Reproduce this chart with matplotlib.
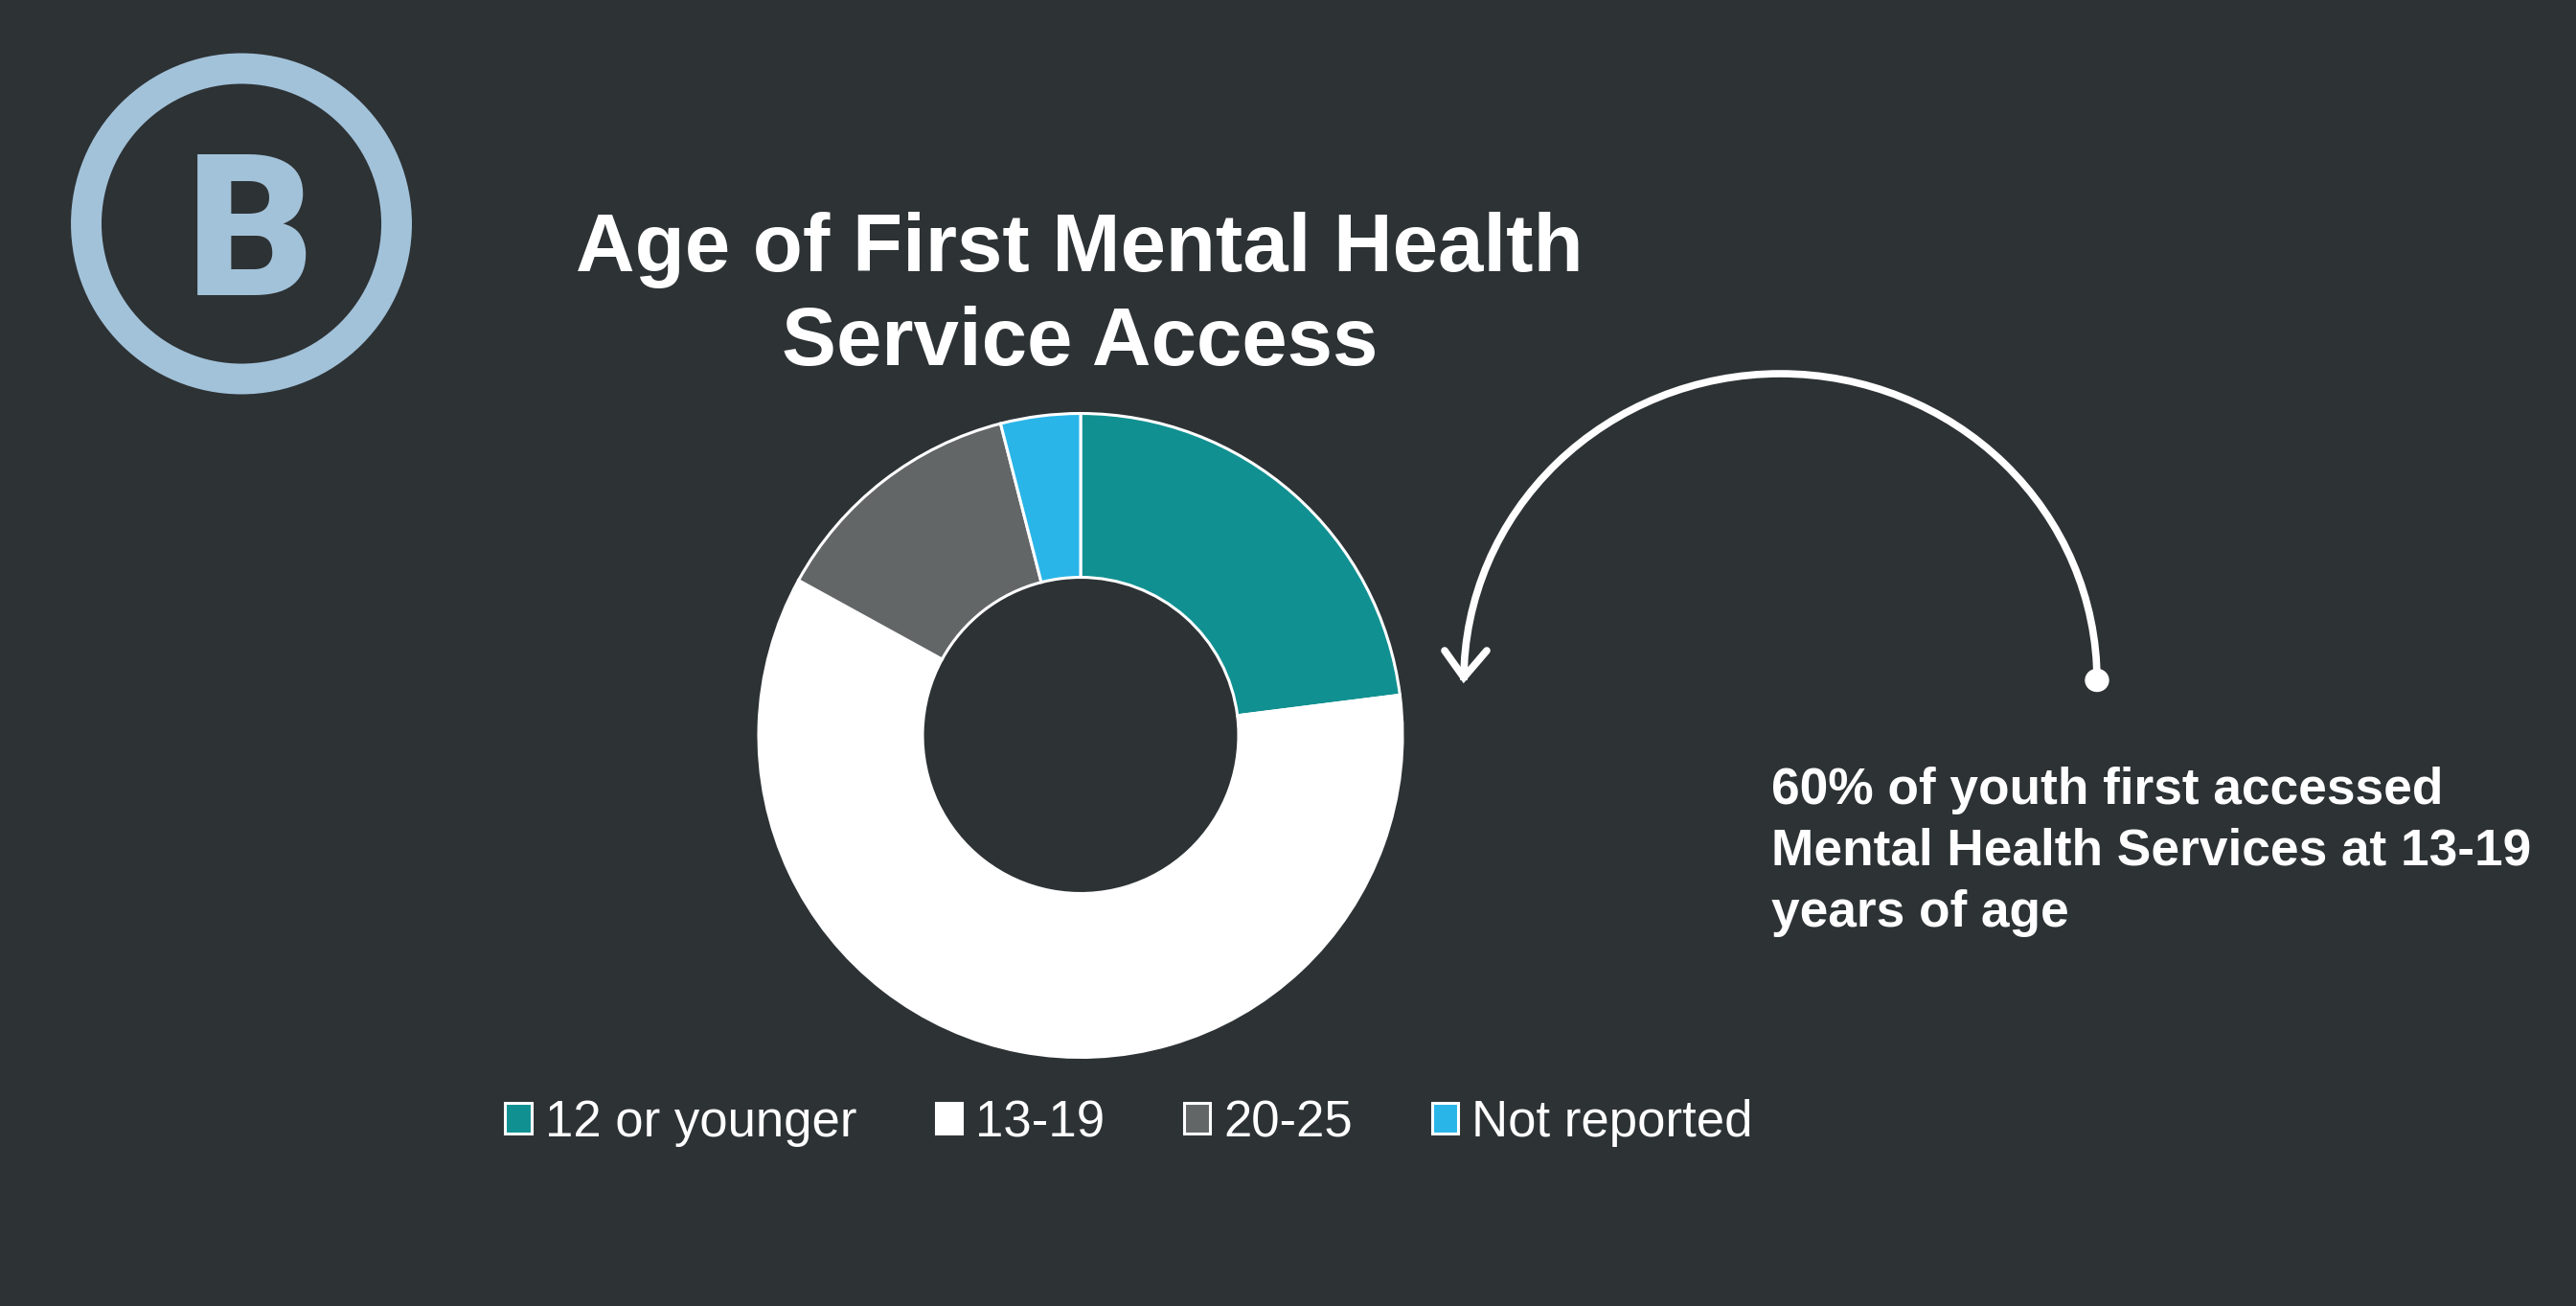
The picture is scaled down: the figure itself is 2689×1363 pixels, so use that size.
import matplotlib
matplotlib.use("Agg")
from matplotlib import pyplot as plt
from matplotlib.patches import Arc, Circle, Ellipse

# faixas etarias e percentuais
categorias = ["12 or younger", "13-19", "20-25", "Not reported"]
valores = [23, 60, 13, 4]
cores = ["#109091", "#FFFFFF", "#626667", "#29B5E8"]

titulo = ["Age of First Mental Health", "Service Access"]
nota = ["60% of youth first accessed", "Mental Health Services at 13-19", "years of age"]

fundo = "#2D3235"
azul_logo = "#A2C2D9"
W, H = 2689, 1364

plt.rcParams["font.family"] = ["Liberation Sans", "DejaVu Sans"]

fig = plt.figure(figsize=(W / 100, (H - 0.01) / 100), dpi=100, facecolor=fundo)
ax = fig.add_axes([0, 0, 1, 1])
ax.set_facecolor(fundo)

# rosca
fatias, _ = ax.pie(valores, colors=cores, center=(1128, H - 768.5), radius=336,
                   startangle=90, counterclock=False,
                   wedgeprops=dict(width=171, edgecolor="white", linewidth=2.2))

ax.set_xlim(0, W)
ax.set_ylim(0, H)
ax.set_aspect("equal")
ax.axis("off")

# legenda
leg = ax.legend(fatias, categorias, ncol=4, loc="center", bbox_to_anchor=(1178.5, H - 1172.5),
                bbox_transform=ax.transData, frameon=False, fontsize=38,
                labelcolor="white", handlelength=0.52, handleheight=0.55,
                handletextpad=0.27, columnspacing=1.56, borderpad=0, borderaxespad=0)

# titulo
for texto, base in zip(titulo, [283, 381]):
    ax.text(1127, H - base, texto, color="white", fontsize=61.4, fontweight="bold",
            ha="center", va="baseline")

# nota ao lado do grafico
for texto, base in zip(nota, [839, 903, 967]):
    ax.text(1849, H - base, texto, color="white", fontsize=38.3, fontweight="bold",
            ha="left", va="baseline")

# seta curva
ax.add_patch(Arc((1858.5, H - 711), 661, 640, theta1=0, theta2=180, color="white", lw=5.5))
ax.add_patch(Ellipse((2189, H - 711), 24, 23, color="white"))
ax.plot([1508, 1528, 1552], [H - 680, H - 708, H - 680], color="white", lw=5.5,
        solid_capstyle="round", solid_joinstyle="miter")

# logo
ax.add_patch(Circle((252, H - 234.5), 162, facecolor="none", edgecolor=azul_logo, lw=23))
ax.text(261, H - 308, "B", color=azul_logo, fontsize=148, fontweight=900,
        family=["Roboto", "DejaVu Sans"], ha="center", va="baseline")

fig.savefig("out.png", dpi=100, facecolor=fundo)
